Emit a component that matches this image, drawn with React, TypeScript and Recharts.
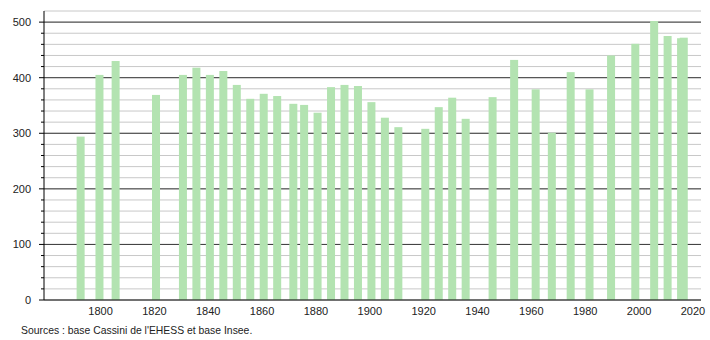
import { ComposedChart, Bar, XAxis, YAxis, CartesianGrid, ReferenceLine } from "recharts";

document.body.style.margin = "0";

const years = [
  1793, 1800, 1806, 1821, 1831, 1836, 1841, 1846, 1851, 1856, 1861, 1866, 1872, 1876, 1881, 1886,
  1891, 1896, 1901, 1906, 1911, 1921, 1926, 1931, 1936, 1946, 1954, 1962, 1968, 1975, 1982, 1990,
  1999, 2006, 2011, 2016, 2017,
];
const population = [
  294, 405, 430, 369, 405, 418, 405, 412, 387, 362, 371, 367, 353, 351, 337, 383,
  387, 385, 356, 328, 311, 308, 347, 364, 326, 365, 432, 379, 301, 410, 379, 440,
  461, 502, 475, 471, 472,
];
const xTicks = [1800, 1820, 1840, 1860, 1880, 1900, 1920, 1940, 1960, 1980, 2000, 2020];
const allTicks = Array.from({ length: 27 }, (_, i) => i * 20);
const majorTicks = [100, 200, 300, 400, 500];

const data = years.map((y, i) => ({ year: y, pop: population[i] }));

const FONT = '"Liberation Sans", Arial, sans-serif';
const BAR_W = 8;

function YTick({ x, y, payload }: any) {
  const v = payload.value;
  if (v > 500) return null;
  const major = v % 100 === 0;
  return (
    <g>
      <line x1={x - (major ? 5 : 3)} x2={x} y1={y} y2={y} stroke="#000" />
      {major && (
        <text x={x - 13} y={y} dy={4} textAnchor="end" fontSize={11} fill="#222" fontFamily={FONT}>
          {v}
        </text>
      )}
    </g>
  );
}

// numeric x axis gives very thin bands, so widen each bar around its centre
function WideBar({ x, y, width, height, fill }: any) {
  const cx = x + width / 2;
  return <rect x={cx - BAR_W / 2 - 1} y={y} width={BAR_W} height={height} fill={fill} />;
}

export default function App() {
  return (
    <div style={{ position: "relative", width: 710, height: 340, background: "#fff" }}>
      <ComposedChart
        width={710}
        height={320}
        data={data}
        margin={{ top: 11, right: 9, left: 0, bottom: 0 }}
      >
        <CartesianGrid yAxisId="main" vertical={false} stroke="#c8c8c8" />
        {majorTicks.map((v) => (
          <ReferenceLine key={v} yAxisId="main" y={v} stroke="#3a3a3a" zIndex={-50} />
        ))}
        <XAxis
          dataKey="year"
          type="number"
          domain={[1779, 2023]}
          ticks={xTicks}
          allowDataOverflow
          tickLine={false}
          axisLine={{ stroke: "#000" }}
          tick={{ fontSize: 11, fill: "#222", fontFamily: FONT }}
          tickMargin={1}
          height={20}
        />
        <YAxis
          yAxisId="main"
          type="number"
          domain={[0, 520]}
          ticks={allTicks}
          interval={0}
          width={44}
          tickLine={false}
          tickSize={0}
          tickMargin={0}
          axisLine={{ stroke: "#000" }}
          tick={<YTick />}
        />
        <Bar
          yAxisId="main"
          dataKey="pop"
          fill="#b3e3b1"
          shape={<WideBar />}
          isAnimationActive={false}
        />
      </ComposedChart>
      <div
        style={{
          position: "absolute",
          left: 21,
          top: 325,
          fontSize: 10.4,
          fontFamily: FONT,
          color: "#222",
          whiteSpace: "nowrap",
        }}
      >
        Sources : base Cassini de l'EHESS et base Insee.
      </div>
    </div>
  );
}
